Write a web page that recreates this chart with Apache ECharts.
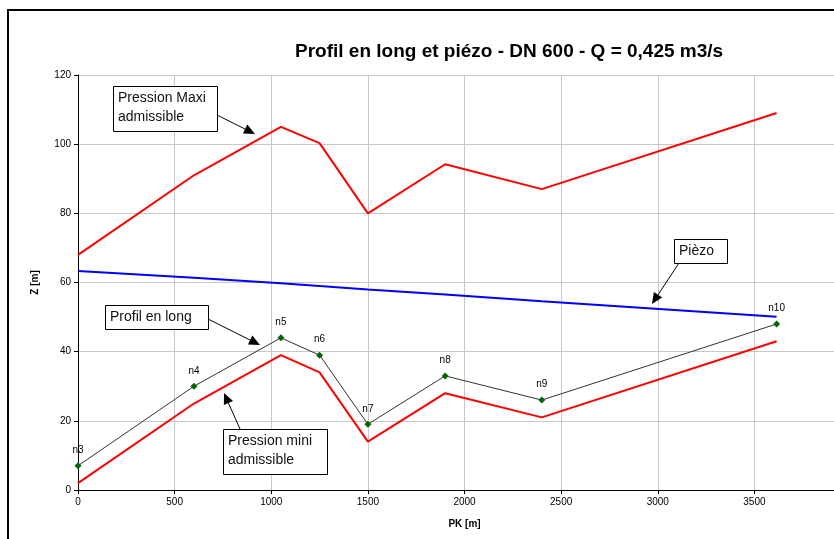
<!DOCTYPE html>
<html>
<head>
<meta charset="utf-8">
<script src="https://cdn.jsdelivr.net/npm/echarts@6/dist/echarts.min.js"></script>
<style>
  html, body { margin: 0; padding: 0; background: #fff; }
  #chart { width: 834px; height: 539px; }
</style>
</head>
<body>
<div id="chart"></div>
<script>
// PK des noeuds (m) et noms
var pkNodes = [0, 600, 1050, 1250, 1500, 1900, 2400, 3615];
var nodeNames = ['n3', 'n4', 'n5', 'n6', 'n7', 'n8', 'n9', 'n10'];

// cotes Z (m)
var profilLong = [7, 30, 44, 39, 19, 33, 26, 48];
var pressionMini = [2, 25, 39, 34, 14, 28, 21, 43];
var pressionMaxi = [68, 91, 105, 100.3, 80, 94.2, 87, 109];
var piezo = [63.3, 61.4, 59.8, 59, 58, 56.5, 54.6, 50.1];

var xTicks = { min: 0, max: 4000, interval: 500 };
var yTicks = { min: 0, max: 120, interval: 20 };

function pairs(vals) {
    return pkNodes.map(function (pk, i) { return [pk, vals[i]]; });
}

// boite de texte + fleche
function note(text, box, from, to) {
    var dx = to[0] - from[0], dy = to[1] - from[1];
    var len = Math.sqrt(dx * dx + dy * dy);
    var ux = dx / len, uy = dy / len;
    var hl = 11, hw = 5;
    var bx = to[0] - ux * hl, by = to[1] - uy * hl;
    return [
        {
            type: 'line',
            shape: { x1: from[0], y1: from[1], x2: bx, y2: by },
            style: { stroke: '#000', lineWidth: 1 },
            z: 100
        },
        {
            type: 'polygon',
            shape: { points: [to, [bx - uy * hw, by + ux * hw], [bx + uy * hw, by - ux * hw]] },
            style: { fill: '#000' },
            z: 100
        },
        {
            type: 'rect',
            shape: { x: box[0] + 0.5, y: box[1] + 0.5, width: box[2], height: box[3] },
            style: { fill: '#fff', stroke: '#000', lineWidth: 1 },
            z: 100
        },
        {
            type: 'text',
            x: box[0] + 5, y: box[1] + 3,
            style: { text: text, font: '14px Arial', fill: '#111', lineHeight: 19 },
            z: 101
        }
    ];
}

var myChart = echarts.init(document.getElementById('chart'));

var option = {
    animation: false,
    backgroundColor: '#fff',
    title: {
        text: 'Profil en long et piézo - DN 600 - Q = 0,425 m3/s',
        left: 290,
        top: 37,
        textStyle: { fontFamily: 'Arial', fontSize: 19, fontWeight: 'bold', color: '#000' }
    },
    grid: { left: 78, top: 75, right: -17, bottom: 49, outerBoundsMode: 'none' },
    xAxis: {
        type: 'value',
        min: xTicks.min, max: xTicks.max, interval: xTicks.interval,
        name: 'PK [m]',
        nameLocation: 'middle',
        nameGap: 29,
        nameTextStyle: { fontFamily: 'Arial', fontSize: 10, fontWeight: 'bold', color: '#000' },
        axisLine: { onZero: false, lineStyle: { color: '#000', width: 1 } },
        axisTick: { show: true, length: 4, lineStyle: { color: '#000' } },
        axisLabel: { fontFamily: 'Arial', fontSize: 10, color: '#000', margin: 7,
            formatter: function (v) { return String(v); } },
        splitLine: { show: true, lineStyle: { color: '#c8c8c8', width: 1 } }
    },
    yAxis: {
        type: 'value',
        min: yTicks.min, max: yTicks.max, interval: yTicks.interval,
        name: 'Z [m]',
        nameLocation: 'middle',
        nameGap: 38,
        nameTextStyle: { fontFamily: 'Arial', fontSize: 10, fontWeight: 'bold', color: '#000' },
        axisLine: { show: true, lineStyle: { color: '#000', width: 1 } },
        axisTick: { show: true, length: 4, lineStyle: { color: '#000' } },
        axisLabel: { fontFamily: 'Arial', fontSize: 10, color: '#000', margin: 7 },
        splitLine: { show: true, lineStyle: { color: '#c8c8c8', width: 1 } }
    },
    series: [
        {
            name: 'Pression Maxi admissible',
            type: 'line',
            data: pairs(pressionMaxi),
            showSymbol: false,
            lineStyle: { color: '#ff0000', width: 2 }
        },
        {
            name: 'Piézo',
            type: 'line',
            data: pairs(piezo),
            showSymbol: false,
            lineStyle: { color: '#0000ff', width: 2 }
        },
        {
            name: 'Pression mini admissible',
            type: 'line',
            data: pairs(pressionMini),
            showSymbol: false,
            lineStyle: { color: '#ff0000', width: 2 }
        },
        {
            name: 'Profil en long',
            type: 'line',
            data: pairs(profilLong),
            symbol: 'diamond',
            symbolSize: 7,
            itemStyle: { color: '#006400' },
            lineStyle: { color: '#333', width: 1 },
            label: {
                show: true,
                position: 'top',
                distance: 7,
                fontFamily: 'Arial',
                fontSize: 10,
                color: '#000',
                formatter: function (p) { return nodeNames[p.dataIndex]; }
            }
        }
    ],
    graphic: [
        {
            type: 'rect',
            shape: { x: 8, y: 10, width: 840, height: 540 },
            style: { fill: 'none', stroke: '#000', lineWidth: 2 },
            silent: true
        }
    ]
        .concat(note('Pression Maxi\nadmissible', [113, 86, 104, 45], [217, 115], [255, 134]))
        .concat(note('Profil en long', [105, 305, 103, 24], [208, 319], [260, 345]))
        .concat(note('Pression mini\nadmissible', [223, 429, 104, 45], [240, 429], [224, 393]))
        .concat(note('Pièzo', [674, 239, 53, 24], [679, 263], [652, 304]))
};

myChart.setOption(option);
</script>
</body>
</html>
